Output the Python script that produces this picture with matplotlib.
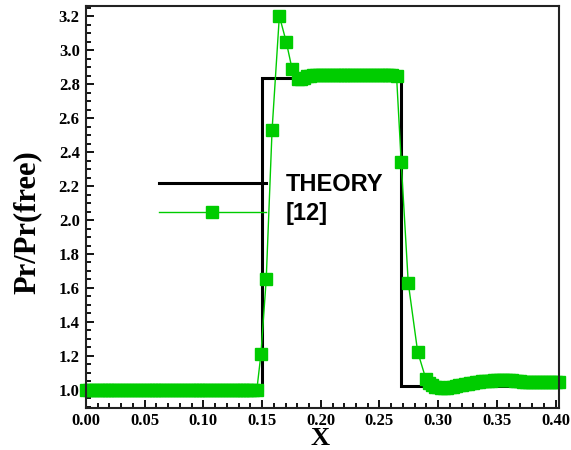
import matplotlib
matplotlib.use("Agg")
import matplotlib.pyplot as plt
from matplotlib.ticker import MultipleLocator

# theory (step profile)
theory_x = [0.0, 0.150, 0.150, 0.268, 0.268, 0.4025]
theory_y = [1.0, 1.0, 2.835, 2.835, 1.025, 1.025]

# reference [12] data
ref_x = [0.0000, 0.0025, 0.0050, 0.0075, 0.0100, 0.0125, 0.0150, 0.0175, 0.0200, 0.0225,
         0.0250, 0.0275, 0.0300, 0.0325, 0.0350, 0.0375, 0.0400, 0.0425, 0.0450, 0.0475,
         0.0500, 0.0525, 0.0550, 0.0575, 0.0600, 0.0625, 0.0650, 0.0675, 0.0700, 0.0725,
         0.0750, 0.0775, 0.0800, 0.0825, 0.0850, 0.0875, 0.0900, 0.0925, 0.0950, 0.0975,
         0.1000, 0.1025, 0.1050, 0.1075, 0.1100, 0.1125, 0.1150, 0.1175, 0.1200, 0.1225,
         0.1250, 0.1275, 0.1300, 0.1325, 0.1350, 0.1375, 0.1400, 0.1425, 0.1455,
         0.149, 0.1535, 0.1585, 0.1647, 0.1705, 0.1755, 0.181, 0.1835, 0.186,
         0.1885, 0.1910, 0.1935, 0.1960, 0.1985, 0.2010, 0.2035, 0.2060, 0.2085, 0.2110,
         0.2135, 0.2160, 0.2185, 0.2210, 0.2235, 0.2260, 0.2285, 0.2310, 0.2335, 0.2360,
         0.2385, 0.2410, 0.2435, 0.2460, 0.2485, 0.2510, 0.2535, 0.2560, 0.2585, 0.2610,
         0.2645,
         0.2685, 0.2745, 0.2825, 0.2895, 0.2925, 0.295, 0.2975, 0.300, 0.3025, 0.305,
         0.3075, 0.310, 0.3125, 0.315, 0.3175, 0.320, 0.3225, 0.325, 0.3275, 0.330,
         0.3325, 0.335, 0.3375, 0.340, 0.3425, 0.345, 0.3475, 0.350, 0.3525, 0.355,
         0.3575, 0.360, 0.3625, 0.365, 0.3675, 0.370, 0.3725, 0.375, 0.3775, 0.380,
         0.3825, 0.385, 0.3875, 0.390, 0.3925, 0.395, 0.3975, 0.400, 0.4025]
ref_y = [1.0, 1.0, 1.0, 1.0, 1.0, 1.0, 1.0, 1.0, 1.0, 1.0,
         1.0, 1.0, 1.0, 1.0, 1.0, 1.0, 1.0, 1.0, 1.0, 1.0,
         1.0, 1.0, 1.0, 1.0, 1.0, 1.0, 1.0, 1.0, 1.0, 1.0,
         1.0, 1.0, 1.0, 1.0, 1.0, 1.0, 1.0, 1.0, 1.0, 1.0,
         1.0, 1.0, 1.0, 1.0, 1.0, 1.0, 1.0, 1.0, 1.0, 1.0,
         1.0, 1.0, 1.0, 1.0, 1.0, 1.0, 1.0, 1.0, 1.0,
         1.21, 1.65, 2.53, 3.20, 3.05, 2.89, 2.83, 2.83, 2.835,
         2.845, 2.85, 2.855, 2.855, 2.855, 2.855, 2.855, 2.855, 2.855, 2.855,
         2.855, 2.855, 2.855, 2.855, 2.855, 2.855, 2.855, 2.855, 2.855, 2.855,
         2.855, 2.855, 2.855, 2.855, 2.855, 2.855, 2.855, 2.855, 2.855, 2.855,
         2.85,
         2.34, 1.63, 1.225, 1.065, 1.04, 1.03, 1.02, 1.015, 1.01, 1.01,
         1.01, 1.015, 1.02, 1.025, 1.03, 1.03, 1.035, 1.035, 1.04, 1.04,
         1.045, 1.045, 1.05, 1.05, 1.055, 1.055, 1.06, 1.06, 1.06, 1.06,
         1.06, 1.06, 1.06, 1.055, 1.05, 1.05, 1.045, 1.045, 1.045, 1.045,
         1.045, 1.045, 1.045, 1.045, 1.045, 1.045, 1.045, 1.045, 1.045]

green = "#00cc00"

fig = plt.figure(figsize=(5.71, 4.5), dpi=100)
ax = fig.add_axes([86 / 571, 42 / 450, 473 / 571, 402 / 450])

l1, = ax.plot(theory_x, theory_y, color="black", lw=2.2, solid_joinstyle="miter")
l2, = ax.plot(ref_x, ref_y, color=green, lw=1.0, marker="s", ms=8,
              mfc=green, mec=green, clip_on=False)

ax.set_xlim(0, 0.4029)
ax.set_ylim(0.894, 3.259)

ax.xaxis.set_major_locator(MultipleLocator(0.05))
ax.xaxis.set_minor_locator(MultipleLocator(0.01))
ax.yaxis.set_major_locator(MultipleLocator(0.2))
ax.yaxis.set_minor_locator(MultipleLocator(0.05))
ax.xaxis.set_major_formatter(plt.FormatStrFormatter("%.2f"))
ax.yaxis.set_major_formatter(plt.FormatStrFormatter("%.1f"))

ax.tick_params(which="both", direction="in", top=False, right=False, width=1.3)
ax.tick_params(which="major", length=6, labelsize=12)
ax.tick_params(which="minor", length=3.5)
ax.tick_params(axis="y", which="major", pad=4.5)
for lab in ax.get_xticklabels() + ax.get_yticklabels():
    lab.set_fontfamily("Liberation Serif")
    lab.set_fontweight("bold")
for s in ax.spines.values():
    s.set_linewidth(1.5)
    s.set_color("#222222")

ax.set_xlabel("X", fontfamily="Liberation Serif", fontweight="bold", fontsize=19)
ax.xaxis.set_label_coords(0.495, -0.048)
ax.set_ylabel("Pr/Pr(free)", fontfamily="Liberation Serif", fontweight="bold", fontsize=22)
ax.yaxis.set_label_coords(-0.094, 0.463)

ax.legend([l1, l2], ["THEORY", "[12]"], loc="center left", bbox_to_anchor=(0.11, 0.52),
          frameon=False, numpoints=1, handlelength=4.5, handletextpad=0.85,
          labelspacing=0.25, prop={"family": "Liberation Sans", "weight": "bold", "size": 17})

fig.savefig("out.png", dpi=100)
